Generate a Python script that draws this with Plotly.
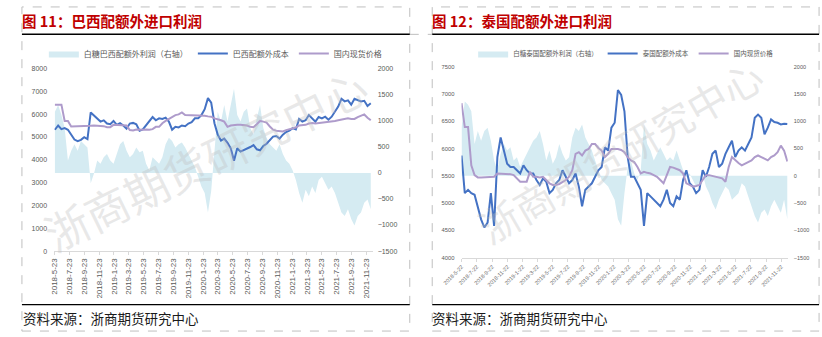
import plotly.graph_objects as go
import pandas as pd

# ---------------- data ----------------
# Brazil panel: samples about every 13 days from 2018-05-26
br_start = "2018-05-26"
br_cost = [5320, 5506, 5348, 5391, 5320, 5077, 4891, 4819, 4876, 4991,
           4905, 6078, 5935, 5820, 5677, 5734, 5591, 5563, 5706, 5534,
           5606, 5506, 5363, 5591, 5620, 5563, 5277, 5334, 5506, 5706,
           5877, 5734, 5820, 5792, 5849, 5677, 5320, 5448, 5420, 5506,
           5477, 5591, 5649, 5820, 5820, 5963, 6221, 6707, 6507, 5606,
           5105, 4848, 4934, 4748, 4505, 3961, 4505, 4362, 4419, 4505,
           4562, 4648, 4462, 4419, 4605, 4705, 4876, 5019, 5048, 4934,
           5105, 5220, 5277, 5391, 5334, 5792, 5677, 5734, 5963, 5820,
           5677, 5877, 5820, 5892, 5763, 5892, 6106, 6335, 6678, 6564,
           6607, 6421, 6678, 6621, 6564, 6592, 6364, 6478]
br_spot = [6421, 6421, 6421, 5706, 5706, 5463, 5463, 5463, 5463, 5477,
           5491, 5491, 5506, 5506, 5491, 5477, 5434, 5434, 5534, 5534,
           5534, 5506, 5506, 5305, 5291, 5334, 5320, 5320, 5334, 5320,
           5348, 5448, 5448, 5606, 5706, 5792, 5849, 5963, 5992, 6078,
           5963, 5963, 5935, 5935, 5949, 5963, 5935, 5906, 5892, 5820,
           5792, 5734, 5677, 5448, 5506, 5534, 5534, 5534, 5534, 5506,
           5448, 5434, 5563, 5706, 5677, 5634, 5463, 5320, 5277, 5248,
           5248, 5305, 5334, 5391, 5420, 5506, 5506, 5534, 5591, 5620,
           5591, 5606, 5620, 5649, 5677, 5677, 5706, 5734, 5763, 5792,
           5820, 5792, 5792, 5877, 5935, 5992, 5849, 5734]
br_profit = [1175, 1300, 1112, 862, 237, 425, 550, 425, 612, 550,
             487, -200, -12, 237, 175, 300, 362, 237, 175, 362,
             550, 612, 425, 300, 362, 487, 394, 425, 175, 50,
             300, 237, 175, 300, 550, 675, 612, 487, 550, 581,
             487, 362, 237, 112, -75, -262, -387, -762, -350, 500,
             1175, 987, 1300, 987, 1300, 1612, 1112, 987, 1175, 1237,
             862, 737, 1050, 1300, 862, 675, 550, 487, 425, 550,
             362, 237, 175, 50, -137, -387, -575, -325, -450, -262,
             -387, -137, -75, -200, -325, -262, -387, -575, -762, -825,
             -700, -887, -1012, -825, -762, -575, -512, -700]
br_ticks = ["2018-5-23", "2018-7-23", "2018-9-23", "2018-11-23", "2019-1-23",
            "2019-3-23", "2019-5-23", "2019-7-23", "2019-9-23", "2019-11-23",
            "2020-1-23", "2020-3-23", "2020-5-23", "2020-7-23", "2020-9-23",
            "2020-11-23", "2021-1-23", "2021-3-23", "2021-5-23", "2021-7-23",
            "2021-9-23", "2021-11-23"]

# Thailand panel: samples about every 13 days from 2018-05-22
th_start = "2018-05-22"
th_cost = [5872, 5182, 5242, 5182, 5152, 4942, 4702, 4552, 4642, 5182,
           4582, 5842, 6202, 5962, 5722, 5662, 5662, 5602, 5542, 5692,
           5602, 5542, 5542, 5422, 5332, 5452, 5392, 5182, 5242, 5362,
           5422, 5602, 5482, 5362, 5422, 5542, 5302, 4942, 5242, 5302,
           5362, 5482, 5602, 5662, 6022, 5962, 6382, 6472, 7072, 6982,
           6682, 5842, 5482, 5482, 5362, 5242, 4582, 5182, 5122, 5062,
           5002, 4942, 5062, 5242, 5002, 4942, 5122, 5062, 5422, 5602,
           5362, 5302, 5182, 5242, 5602, 5482, 5662, 5902, 5962, 5662,
           5722, 5902, 6022, 6142, 5842, 5962, 6022, 5962, 6082, 6202,
           6562, 6622, 6562, 6262, 6382, 6532, 6484, 6472, 6442, 6454,
           6448]
th_spot = [6832, 6394, 6394, 5692, 5512, 5470, 5470, 5470, 5470, 5482,
           5482, 5542, 5542, 5542, 5542, 5530, 5512, 5452, 5392, 5392,
           5392, 5572, 5482, 5482, 5470, 5482, 5422, 5362, 5332, 5332,
           5350, 5392, 5422, 5482, 5602, 5902, 5932, 5872, 5962, 5992,
           6082, 6082, 6010, 5962, 5842, 5902, 5992, 5992, 5992, 5974,
           5932, 5842, 5782, 5752, 5662, 5542, 5572, 5554, 5542, 5512,
           5482, 5422, 5362, 5512, 5662, 5650, 5632, 5602, 5542, 5362,
           5332, 5302, 5314, 5332, 5422, 5512, 5512, 5494, 5482, 5470,
           5452, 5392, 5662, 5842, 5782, 5734, 5692, 5722, 5752, 5782,
           5842, 5872, 5842, 5812, 5782, 5842, 5872, 5932, 6052, 5962,
           5764]
th_profit = [882, 1362, 1302, 1182, 582, 822, 642, 822, 882, 642,
             282, 102, 402, 582, 462, 522, 282, 342, 162, 282,
             402, 522, 642, 702, 822, 582, 282, 462, 222, 342,
             582, 402, 282, 342, 702, 882, 822, 942, 702, 582,
             462, 282, 102, -78, -138, -198, -318, -438, -798, -918,
             -318, 162, 282, 42, -78, 102, 942, 582, 462, 282,
             402, 522, 402, 282, 342, 282, 462, 282, 102, -18,
             42, -78, -198, -138, 42, -198, -318, -498, -618, -438,
             -318, -198, -258, -438, -378, -318, -138, -198, -378, -558,
             -738, -858, -678, -618, -738, -558, -438, -558, -678, -438,
             -798]
th_ticks = ["2018-5-22", "2018-7-22", "2018-9-22", "2018-11-22", "2019-1-22",
            "2019-3-22", "2019-5-22", "2019-7-22", "2019-9-22", "2019-11-22",
            "2020-1-22", "2020-3-22", "2020-5-22", "2020-7-22", "2020-9-22",
            "2020-11-22", "2021-1-22", "2021-3-22", "2021-5-22", "2021-7-22",
            "2021-9-22", "2021-11-22"]

br_dates = pd.date_range(br_start, periods=len(br_cost), freq="320h")
th_dates = pd.date_range(th_start, periods=len(th_cost), freq="313h")
br_tickvals = [pd.to_datetime(t, format="%Y-%m-%d") for t in br_ticks]
th_tickvals = [pd.to_datetime(t, format="%Y-%m-%d") for t in th_ticks]

# ---------------- styling ----------------
W, H = 822, 337
def px(x):
    return x / W
def py(y):
    return 1 - y / H

BLUE = "#4472C4"
PURPLE = "#AE9BCB"
AREA = "#D5EBF2"
GRAY = "#595959"
AXIS = "#D9D9D9"
RED = "#C00000"
CJK = "Noto Sans CJK SC"

fig = go.Figure()
# Brazil
fig.add_trace(go.Scatter(x=br_dates, y=br_profit, name="白糖巴西配额外利润（右轴）",
                         mode="lines", fill="tozeroy", line=dict(width=0, color=AREA),
                         fillcolor=AREA, xaxis="x", yaxis="y", legend="legend"))
fig.add_trace(go.Scatter(x=br_dates, y=br_cost, name="巴西配额外成本", mode="lines",
                         line=dict(color=BLUE, width=2), xaxis="x", yaxis="y2", legend="legend"))
fig.add_trace(go.Scatter(x=br_dates, y=br_spot, name="国内现货价格", mode="lines",
                         line=dict(color=PURPLE, width=2), xaxis="x", yaxis="y2", legend="legend"))
# Thailand
fig.add_trace(go.Scatter(x=th_dates, y=th_profit, name="白糖泰国配额外利润（右轴）",
                         mode="lines", fill="tozeroy", line=dict(width=0, color=AREA),
                         fillcolor=AREA, xaxis="x2", yaxis="y3", legend="legend2"))
fig.add_trace(go.Scatter(x=th_dates, y=th_cost, name="泰国配额外成本", mode="lines",
                         line=dict(color=BLUE, width=2), xaxis="x2", yaxis="y4", legend="legend2"))
fig.add_trace(go.Scatter(x=th_dates, y=th_spot, name="国内现货价格", mode="lines",
                         line=dict(color=PURPLE, width=2), xaxis="x2", yaxis="y4", legend="legend2"))

common_x = dict(type="date", showline=True, linecolor=AXIS, linewidth=1, ticks="outside",
                ticklen=3, tickcolor=AXIS, showgrid=False, zeroline=False)
common_y = dict(showgrid=False, zeroline=False, showline=False, ticks="")

fig.update_layout(
    width=W, height=H, margin=dict(l=0, r=0, t=0, b=0),
    paper_bgcolor="white", plot_bgcolor="rgba(0,0,0,0)",
    font=dict(family="Liberation Sans, " + CJK, color=GRAY),
    showlegend=True, hovermode=False,
    xaxis=dict(domain=[px(36), px(362)], anchor="y", range=["2018-05-23", "2021-12-17"],
               tickvals=br_tickvals, ticktext=br_ticks, tickangle=-90,
               tickfont=dict(size=8, color=GRAY), **common_x),
    yaxis=dict(domain=[py(252.3), py(66)], anchor="x", side="right", range=[-1500, 2000],
               tickvals=[-1500, -1000, -500, 0, 500, 1000, 1500, 2000],
               tickfont=dict(size=7, color=GRAY), ticklabelstandoff=4, **common_y),
    yaxis2=dict(overlaying="y", anchor="x", side="left", range=[0, 8000],
                tickvals=[0, 1000, 2000, 3000, 4000, 5000, 6000, 7000, 8000],
                tickfont=dict(size=7, color=GRAY), ticklabelstandoff=6, **common_y),
    xaxis2=dict(domain=[px(453), px(787)], anchor="y3", range=["2018-05-22", "2021-12-18"],
                tickvals=th_tickvals, ticktext=th_ticks, tickangle=-45,
                tickfont=dict(size=5.5, color="#666666"), **common_x),
    yaxis3=dict(domain=[py(259), py(64)], anchor="x2", side="right", range=[-1500, 2000],
                tickvals=[-1500, -1000, -500, 0, 500, 1000, 1500, 2000],
                tickfont=dict(size=5.5, color=GRAY), ticklabelstandoff=5, **common_y),
    yaxis4=dict(overlaying="y3", anchor="x2", side="left", range=[4000, 7500],
                tickvals=[4000, 4500, 5000, 5500, 6000, 6500, 7000, 7500],
                tickfont=dict(size=5.8, color=GRAY), ticklabelstandoff=6, **common_y),
    legend=dict(orientation="h", x=px(201), xanchor="center", y=py(50.5), yanchor="middle",
                font=dict(size=8, color=GRAY, family=CJK), bgcolor="rgba(0,0,0,0)",
                itemwidth=30, tracegroupgap=0),
    legend2=dict(orientation="h", x=px(621), xanchor="center", y=py(50.5), yanchor="middle",
                 font=dict(size=6.5, color=GRAY, family=CJK), bgcolor="rgba(0,0,0,0)",
                 itemwidth=30, tracegroupgap=0),
)

annotations = [
    dict(text="<b>图 11：巴西配额外进口利润</b>", x=px(1), y=py(16.5), xanchor="left",
         yanchor="middle", font=dict(size=14.5, color=RED, family=CJK)),
    dict(text="<b>图 12：泰国配额外进口利润</b>", x=px(421), y=py(16.5), xanchor="left",
         yanchor="middle", font=dict(size=14.5, color=RED, family=CJK)),
    dict(text="资料来源：浙商期货研究中心", x=px(2), y=py(321), xanchor="left",
         yanchor="middle", font=dict(size=13.5, color="#1a1a1a", family=CJK)),
    dict(text="资料来源：浙商期货研究中心", x=px(421), y=py(321), xanchor="left",
         yanchor="middle", font=dict(size=13.5, color="#1a1a1a", family=CJK)),
    dict(text="浙商期货研究中心", x=px(190), y=py(158), textangle=-26,
         xanchor="center", yanchor="middle",
         font=dict(size=44, color="rgba(190,190,190,0.35)", family=CJK)),
    dict(text="浙商期货研究中心", x=px(615), y=py(150), textangle=-30,
         xanchor="center", yanchor="middle",
         font=dict(size=40, color="rgba(190,190,190,0.35)", family=CJK)),
]
for a in annotations:
    a.update(xref="paper", yref="paper", showarrow=False)
fig.update_layout(annotations=annotations)

shapes = []
def hline(x0, x1, y, color, width, dash="solid"):
    shapes.append(dict(type="line", xref="paper", yref="paper", x0=px(x0), x1=px(x1),
                       y0=py(y), y1=py(y), line=dict(color=color, width=width, dash=dash)))
def rect(x0, y0, x1, y1):
    shapes.append(dict(type="rect", xref="paper", yref="paper", x0=px(x0), x1=px(x1),
                       y0=py(y1), y1=py(y0), line=dict(color="#BFBFBF", width=1, dash="dash")))

rect(3, 3, 400, 334)
rect(423, 3, 819, 334)
hline(400, 423, 31, "#BFBFBF", 1, "dash")
hline(3, 400, 31, "black", 1.5)
hline(423, 819, 31, "black", 1.5)
hline(3, 400, 307, "black", 1.2)
hline(423, 819, 307, "black", 1.2)
fig.update_layout(shapes=shapes)

fig.write_html("out.html")
